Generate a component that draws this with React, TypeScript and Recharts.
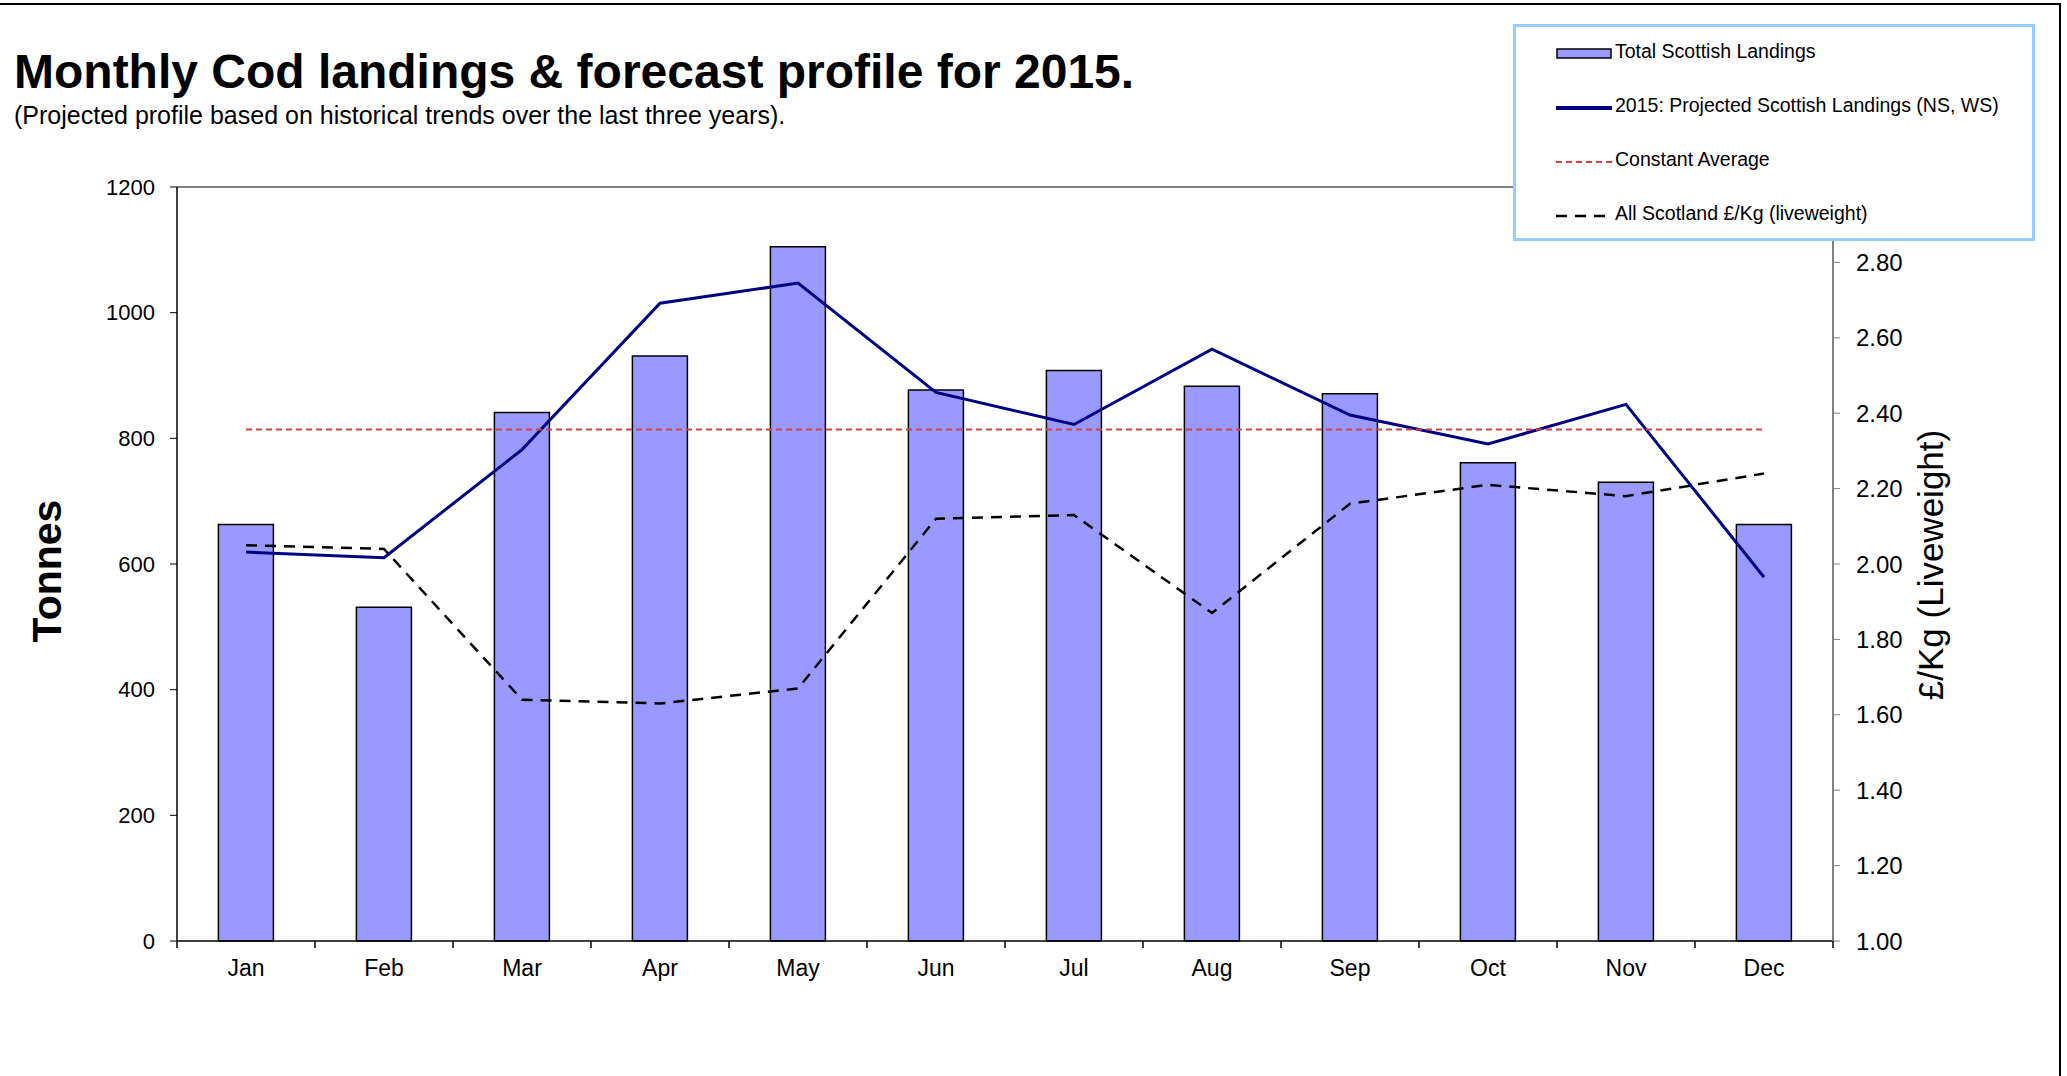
import React from "react";
import {
  ComposedChart,
  Bar,
  Line,
  XAxis,
  YAxis,
  Legend,
  ReferenceLine,
} from "recharts";

const months = ["Jan", "Feb", "Mar", "Apr", "May", "Jun", "Jul", "Aug", "Sep", "Oct", "Nov", "Dec"];
const totalLandings = [663, 531, 841, 931, 1105, 877, 908, 883, 871, 761, 730, 663];
const projectedLandings = [619, 610, 782, 1015, 1047, 873, 822, 942, 837, 791, 854, 579];
const constantAverage = 814;
const pricePerKg = [2.05, 2.04, 1.64, 1.63, 1.67, 2.12, 2.13, 1.87, 2.16, 2.21, 2.18, 2.24];
const tonnesTicks = [0, 200, 400, 600, 800, 1000, 1200];
const priceTicks = [1.0, 1.2, 1.4, 1.6, 1.8, 2.0, 2.2, 2.4, 2.6, 2.8, 3.0];

const data = months.map((month, i) => ({
  month,
  total: totalLandings[i],
  projected: projectedLandings[i],
  average: constantAverage,
  price: pricePerKg[i],
}));

const FONT = "'Liberation Sans', Arial, sans-serif";
const W = 2067;
const H = 1076;

const legendItems = [
  { label: "Total Scottish Landings", kind: "bar" },
  { label: "2015: Projected Scottish Landings (NS, WS)", kind: "navy" },
  { label: "Constant Average", kind: "red" },
  { label: "All Scotland \u00a3/Kg (liveweight)", kind: "black" },
];

const LegendBox = () => (
  <div
    style={{
      width: 522,
      height: 217,
      boxSizing: "border-box",
      border: "3px solid #99CCFF",
      background: "#fff",
      fontFamily: FONT,
      fontSize: 19.5,
      color: "#000",
      paddingTop: 0,
      paddingLeft: 40,
    }}
  >
    {legendItems.map((item) => (
      <div key={item.label} style={{ display: "flex", alignItems: "center", height: 54 }}>
        <svg width={58} height={14} style={{ marginRight: 1 }}>
          {item.kind === "bar" && (
            <rect x={1} y={2} width={54} height={9} fill="#9999FF" stroke="#000" strokeWidth={1.5} />
          )}
          {item.kind === "navy" && <line x1={0} x2={56} y1={7} y2={7} stroke="#000080" strokeWidth={4} />}
          {item.kind === "red" && (
            <line x1={0} x2={56} y1={7} y2={7} stroke="#CC4444" strokeWidth={2} strokeDasharray="6 4" />
          )}
          {item.kind === "black" && (
            <line x1={0} x2={56} y1={7} y2={7} stroke="#000" strokeWidth={2.5} strokeDasharray="11 8" />
          )}
        </svg>
        <span style={{ marginTop: -6 }}>{item.label}</span>
      </div>
    ))}
  </div>
);

const MonthTick = (props: any) => {
  const { x, y, payload, index, visibleTicksCount } = props;
  const half = payload.offset || (W - 177 - 234) / 24;
  const axisY = y - 19;
  return (
    <g>
      <line x1={x - half} x2={x - half} y1={axisY} y2={axisY + 7} stroke="#000" strokeWidth={1.5} />
      {index === visibleTicksCount - 1 && (
        <line x1={x + half} x2={x + half} y1={axisY} y2={axisY + 7} stroke="#000" strokeWidth={1.5} />
      )}
      <text x={x} y={y} dy="0.71em" textAnchor="middle" fontFamily={FONT} fontSize={23} fill="#000">
        {payload.value}
      </text>
    </g>
  );
};

export default function App() {
  return (
    <div style={{ position: "absolute", left: 0, top: 0, width: W, height: H, background: "#fff" }}>
      <ComposedChart
        width={W}
        height={H}
        data={data}
        margin={{ top: 187, right: 0, bottom: 75, left: 0 }}
        barCategoryGap="30%"
      >
        <XAxis
          dataKey="month"
          height={60}
          tickLine={false}
          tickSize={7}
          tickMargin={12}
          axisLine={{ stroke: "#000", strokeWidth: 1.5 }}
          tick={<MonthTick />}
          interval={0}
        />
        <YAxis
          yAxisId="left"
          width={177}
          domain={[0, 1200]}
          ticks={tonnesTicks}
          interval={0}
          tickSize={7}
          tickMargin={15}
          axisLine={{ stroke: "#000", strokeWidth: 1.5 }}
          tickLine={{ stroke: "#000" }}
          tick={{ fontFamily: FONT, fontSize: 22, fill: "#000" }}
        />
        <YAxis
          yAxisId="right"
          orientation="right"
          width={234}
          domain={[1, 3]}
          ticks={priceTicks}
          interval={0}
          tickSize={7}
          tickMargin={16}
          axisLine={{ stroke: "#808080", strokeWidth: 2 }}
          tickLine={{ stroke: "#808080" }}
          tickFormatter={(v: number) => v.toFixed(2)}
          tick={{ fontFamily: FONT, fontSize: 24, fill: "#000" }}
        />
        <ReferenceLine yAxisId="left" y={1200} stroke="#808080" strokeWidth={2} />
        <Bar
          yAxisId="left"
          dataKey="total"
          fill="#9999FF"
          stroke="#000"
          strokeWidth={1.5}
          isAnimationActive={false}
        />
        <Line
          yAxisId="left"
          dataKey="projected"
          type="linear"
          stroke="#000080"
          strokeWidth={3}
          dot={false}
          isAnimationActive={false}
        />
        <Line
          yAxisId="left"
          dataKey="average"
          type="linear"
          stroke="#CC4444"
          strokeWidth={2}
          strokeDasharray="6 4"
          dot={false}
          isAnimationActive={false}
        />
        <Line
          yAxisId="right"
          dataKey="price"
          type="linear"
          stroke="#000"
          strokeWidth={2.5}
          strokeDasharray="11 8"
          dot={false}
          isAnimationActive={false}
        />
        <Legend
          layout="horizontal"
          align="center"
          verticalAlign="middle"
          content={() => <LegendBox />}
          wrapperStyle={{ left: 1513, top: 24, width: 522, height: 217 }}
        />
      </ComposedChart>
      <svg
        width={W}
        height={H}
        style={{ position: "absolute", left: 0, top: 0, pointerEvents: "none" }}
      >
        <line x1={0} x2={2061} y1={4} y2={4} stroke="#000" strokeWidth={2} />
        <line x1={2060} x2={2060} y1={4} y2={H} stroke="#000" strokeWidth={2} />
        <text x={14} y={88} fontFamily={FONT} fontSize={48} fontWeight="bold" fill="#000">
          Monthly Cod landings &amp; forecast profile for 2015.
        </text>
        <text x={14} y={124} fontFamily={FONT} fontSize={25} fill="#000">
          (Projected profile based on historical trends over the last three years).
        </text>
        <text
          x={61}
          y={571}
          transform="rotate(-90 61 571)"
          textAnchor="middle"
          fontFamily={FONT}
          fontSize={41}
          fontWeight="bold"
          fill="#000"
        >
          Tonnes
        </text>
        <text
          x={1943}
          y={565}
          transform="rotate(-90 1943 565)"
          textAnchor="middle"
          fontFamily={FONT}
          fontSize={35}
          fill="#000"
        >
          £/Kg (Liveweight)
        </text>
      </svg>
    </div>
  );
}
